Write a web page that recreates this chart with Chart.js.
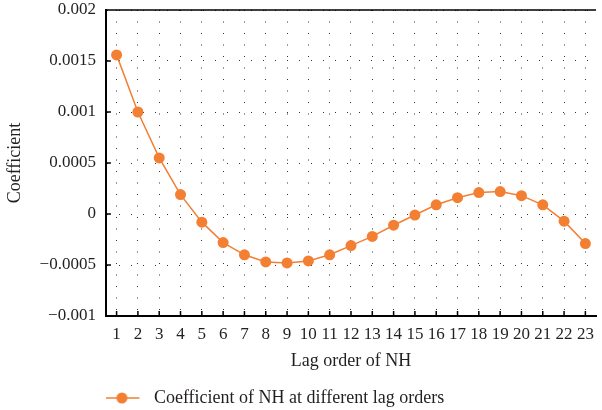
<!DOCTYPE html>
<html>
<head>
<meta charset="utf-8">
<script src="https://cdn.jsdelivr.net/npm/chart.js@4"></script>
<style>
  body { margin: 0; background: #fff; }
  canvas { display: block; }
</style>
</head>
<body>
<canvas id="lagChart" width="602" height="410"></canvas>
<script>
const lagOrders = ["1", "2", "3", "4", "5", "6", "7", "8", "9", "10", "11", "12",
  "13", "14", "15", "16", "17", "18", "19", "20", "21", "22", "23"];
const coefficients = [0.00156, 0.001, 0.00055, 0.00019, -0.00008, -0.00028, -0.0004,
  -0.00047, -0.00048, -0.00046, -0.0004, -0.00031, -0.00022, -0.00011, -0.00001,
  0.00009, 0.00016, 0.00021, 0.00022, 0.00018, 0.00009, -0.00007, -0.00029];
const yTickLabels = ["\u22120.001", "\u22120.0005", "0", "0.0005", "0.001", "0.0015", "0.002"];

const orange = "#f37f32";
const textColor = "#231f20";
const fontFamily = "'Liberation Serif', 'DejaVu Serif', serif";

// legend marker: short line with a dot on it
const marker = document.createElement("canvas");
marker.width = 52;
marker.height = 14;
const mctx = marker.getContext("2d");
mctx.strokeStyle = orange;
mctx.lineWidth = 1.5;
mctx.beginPath();
mctx.moveTo(0, 7);
mctx.lineTo(35, 7);
mctx.stroke();
mctx.fillStyle = orange;
mctx.beginPath();
mctx.arc(17.5, 7, 5.5, 0, Math.PI * 2);
mctx.fill();

// top frame line and ticks drawn inward from the axes
const frameTicks = {
  id: "frameTicks",
  afterDatasetsDraw(chart) {
    const { ctx, chartArea, scales } = chart;
    ctx.save();
    ctx.strokeStyle = "#000";
    ctx.lineWidth = 1.5;
    ctx.beginPath();
    ctx.moveTo(chartArea.left, chartArea.top);
    ctx.lineTo(chartArea.right, chartArea.top);
    scales.y.ticks.forEach((t, i) => {
      const py = scales.y.getPixelForTick(i);
      ctx.moveTo(chartArea.left, py);
      ctx.lineTo(chartArea.left + 5, py);
    });
    scales.x.ticks.forEach((t, i) => {
      const px = scales.x.getPixelForTick(i);
      ctx.moveTo(px, chartArea.bottom);
      ctx.lineTo(px, chartArea.bottom - 5);
    });
    ctx.stroke();
    ctx.restore();
  },
};

const chart = new Chart(document.getElementById("lagChart").getContext("2d"), {
  type: "line",
  data: {
    labels: lagOrders,
    datasets: [
      {
        label: "Coefficient of NH at different lag orders",
        data: coefficients,
        borderColor: orange,
        backgroundColor: orange,
        borderWidth: 1.5,
        pointRadius: 5.5,
        pointHoverRadius: 5.5,
        pointBorderWidth: 0,
        tension: 0,
      },
    ],
  },
  options: {
    responsive: false,
    animation: false,
    devicePixelRatio: 1,
    layout: { padding: { left: 0, right: 0, top: 0, bottom: -7 } },
    plugins: {
      tooltip: { enabled: false },
      legend: {
        position: "bottom",
        align: "start",
        fullSize: false,
        labels: {
          usePointStyle: true,
          pointStyleWidth: 29,
          color: textColor,
          font: { family: fontFamily, size: 18 },
          generateLabels: (c) => [
            {
              text: c.data.datasets[0].label,
              pointStyle: marker,
              fillStyle: orange,
              strokeStyle: orange,
              lineWidth: 0,
              fontColor: textColor,
              datasetIndex: 0,
            },
          ],
        },
      },
    },
    scales: {
      x: {
        type: "category",
        offset: true,
        grid: { color: "#333", lineWidth: 1, drawTicks: false },
        border: { color: "#000", width: 2, dash: [1, 10.5] },
        ticks: {
          color: textColor,
          padding: 8,
          maxRotation: 0,
          autoSkip: false,
          font: { family: fontFamily, size: 17 },
        },
        title: {
          display: true,
          text: "Lag order of NH",
          color: textColor,
          padding: { top: -2, bottom: 7 },
          font: { family: fontFamily, size: 18 },
        },
      },
      y: {
        min: -0.001,
        max: 0.002,
        grid: { color: "#333", lineWidth: 1, drawTicks: false },
        border: { color: "#000", width: 2, dash: [1, 11] },
        ticks: {
          stepSize: 0.0005,
          color: textColor,
          padding: 10,
          font: { family: fontFamily, size: 17 },
          callback: (v, i) => yTickLabels[i],
        },
        // only leave room for half of the top label
        afterFit: (scale) => {
          scale.paddingTop = 10;
          scale.paddingBottom = 10;
        },
        title: {
          display: true,
          text: "Coefficient",
          color: textColor,
          padding: { top: 4, bottom: 4 },
          font: { family: fontFamily, size: 18 },
        },
      },
    },
  },
  plugins: [frameTicks],
});
</script>
</body>
</html>
